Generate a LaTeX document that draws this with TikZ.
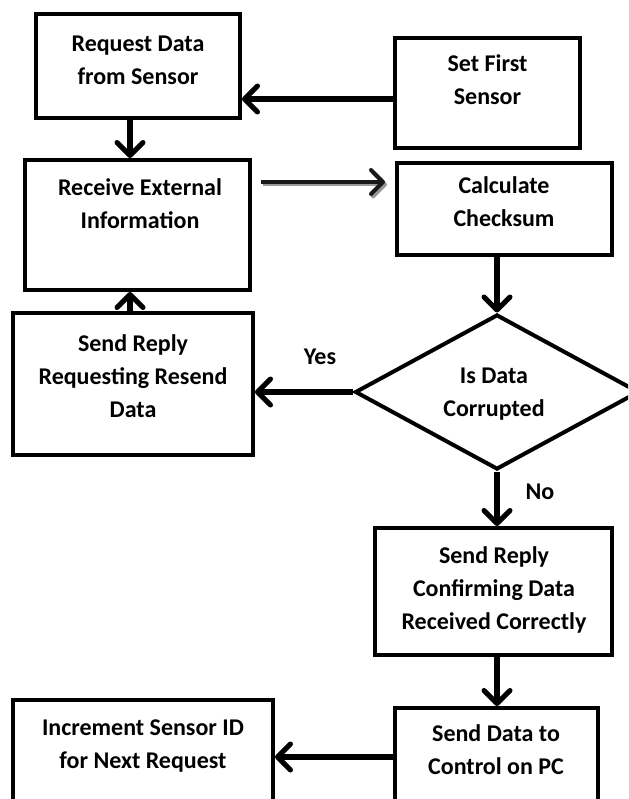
\documentclass[tikz,border=0pt]{standalone}
\usepackage{fontspec}
\setmainfont{Carlito}
\usetikzlibrary{arrows.meta,shapes.geometric}
\begin{document}
\begin{tikzpicture}[x=1pt,y=-1pt,
  box/.style={draw=black,line width=4pt,rectangle,inner sep=0pt},
  txt/.style={align=center,inner sep=0pt,font=\bfseries\fontsize{24}{33}\selectfont},
  lbl/.style={inner sep=0pt,font=\bfseries\fontsize{24}{30}\selectfont},
  flow/.style={line width=6pt,-{Straight Barb[length=13pt,width=26pt,line width=5pt,round]}},
  thinflow/.style={line width=4pt,-{Straight Barb[length=12pt,width=24pt,line width=4pt,round]}}]
\useasboundingbox (0,0) rectangle (628,799);
\clip (0,0) rectangle (628,799);

% process boxes
\node[box,minimum width=204pt,minimum height=104pt] (req)  at (138,66)    {};
\node[box,minimum width=185pt,minimum height=110pt] (set)  at (487.5,93)  {};
\node[box,minimum width=225pt,minimum height=130pt] (recv) at (137.5,225) {};
\node[box,minimum width=215pt,minimum height=92pt]  (calc) at (504.5,209) {};
\node[box,minimum width=240pt,minimum height=142pt] (rsnd) at (133,384)   {};
\node[box,diamond,minimum width=284pt,minimum height=155pt] (dia) at (497,392) {};
\node[box,minimum width=237pt,minimum height=127pt] (conf) at (493.5,591.5) {};
\node[box,minimum width=203pt,minimum height=122pt] (send) at (496.5,769) {};
\node[box,minimum width=260pt,minimum height=130pt] (incr) at (143,765)   {};

% box texts
\node[txt] (reqT)  at (138,60)   {Request Data\\from Sensor};
\node[txt] (setT)  at (487.5,80) {Set First\\Sensor};
\node[txt] (recvT) at (140,204)  {Receive External\\Information};
\node[txt] (calcT) at (504,202)  {Calculate\\Checksum};
\node[txt] (rsndT) at (133,376)  {Send Reply\\Requesting Resend\\Data};
\node[txt] (diaT)  at (494,394)  {Is Data\\Corrupted};
\node[txt] (confT) at (494,590)  {Send Reply\\Confirming Data\\Received Correctly};
\node[txt] (sendT) at (496,750)  {Send Data to\\Control on PC};
\node[txt] (incrT) at (143,746)  {Increment Sensor ID\\for Next Request};

% branch labels
\node[lbl] (yes) at (320,357) {Yes};
\node[lbl] (no)  at (540,492) {No};

% connectors
\draw[flow] ([yshift=-6pt]set.west) -- ([yshift=-6pt]set.west -| req.east);
\draw[flow] ([xshift=-8pt]req.south) -- ([xshift=-8pt]req.south |- recv.north);
% thin connector with a soft grey drop shadow
\begin{scope}[transform canvas={shift={(2pt,-2.5pt)}}]
  \draw[thinflow,draw=black!40,shorten <=9pt,shorten >=10pt] ([yshift=43pt]recv.east) -- ([yshift=43pt]recv.east -| calc.west);
\end{scope}
\draw[thinflow,draw=black!90,shorten <=9pt,shorten >=10pt] ([yshift=43pt]recv.east) -- ([yshift=43pt]recv.east -| calc.west);
\draw[flow] (calc.south -| dia.north) -- (dia.north);
\draw[flow] (dia.west) -- (dia.west -| rsnd.east);
\draw[flow] ([xshift=-3pt]rsnd.north) -- ([xshift=-3pt]rsnd.north |- recv.south);
\draw[flow] (dia.south) -- (dia.south |- conf.north);
\draw[flow] (conf.south -| dia.south) -- (dia.south |- send.north);
\draw[flow] ([yshift=12pt]send.west) -- ([yshift=12pt]send.west -| incr.east);
\end{tikzpicture}
\end{document}
